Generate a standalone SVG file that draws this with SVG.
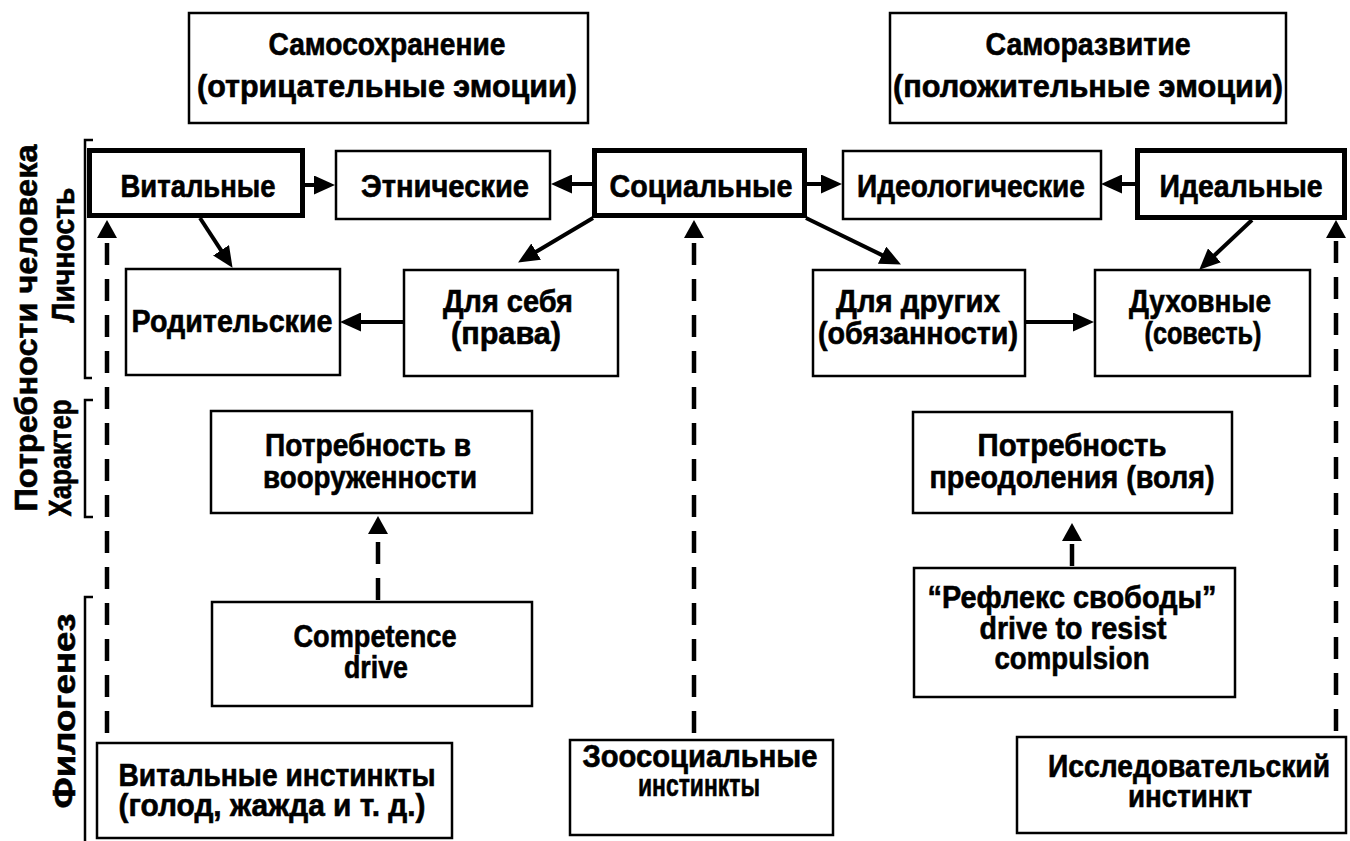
<svg xmlns="http://www.w3.org/2000/svg" width="1350" height="841" viewBox="0 0 1350 841">
<style>
.bg{fill:#fff}
.b{fill:#fff;stroke:#000;stroke-width:2.5}
.bt{fill:#fff;stroke:#000;stroke-width:5}
.t{font-family:"Liberation Sans",Arial,sans-serif;font-weight:bold;font-size:31px;text-anchor:middle;fill:#000;stroke:#000;stroke-width:0.6}
.s{stroke:#000;stroke-width:4;fill:none}
.d{stroke:#000;stroke-width:4.5;fill:none;stroke-dasharray:22 14}
.br{stroke:#000;stroke-width:2.5;fill:none}
</style>
<defs>
<marker id="ah" markerUnits="userSpaceOnUse" markerWidth="21" markerHeight="19" viewBox="0 0 21 19" refX="1" refY="9.5" orient="auto"><path d="M0,0 L21,9.5 L0,19 z" fill="#000"/></marker>
<marker id="au" markerUnits="userSpaceOnUse" markerWidth="18" markerHeight="20" viewBox="0 0 18 20" refX="1" refY="10" orient="auto"><path d="M0,0 L18,10 L0,20 z" fill="#000"/></marker>
</defs>
<rect class="bg" x="0" y="0" width="1350" height="841"/>

<g id="labels">
<text class="t" font-size="32" textLength="367" lengthAdjust="spacingAndGlyphs" transform="translate(37,328) rotate(-90)">Потребности человека</text>
<text class="t" textLength="135" lengthAdjust="spacingAndGlyphs" transform="translate(74,255) rotate(-90)">Личность</text>
<text class="t" textLength="117" lengthAdjust="spacingAndGlyphs" transform="translate(71,458) rotate(-90)">Характер</text>
<text class="t" textLength="195" lengthAdjust="spacingAndGlyphs" transform="translate(75,711) rotate(-90)">Филогенез</text>
<path class="br" d="M93,140 H85 V378 H92"/>
<path class="br" d="M93,400 H85 V517 H93"/>
<path class="br" d="M93,597 H85 V841"/>
</g>

<g id="connectors">
<line class="s" x1="305" y1="185" x2="315" y2="185" marker-end="url(#ah)"/>
<line class="s" x1="592" y1="184" x2="571" y2="184" marker-end="url(#ah)"/>
<line class="s" x1="807" y1="184" x2="822" y2="184" marker-end="url(#ah)"/>
<line class="s" x1="1135" y1="184" x2="1121" y2="184" marker-end="url(#ah)"/>
<line class="s" x1="403" y1="322" x2="360" y2="322" marker-end="url(#ah)"/>
<line class="s" x1="1025" y1="322" x2="1074" y2="322" marker-end="url(#ah)"/>
<line class="s" x1="200" y1="218" x2="221.6" y2="251.1" marker-end="url(#ah)"/>
<line class="s" x1="593" y1="218" x2="535.3" y2="252.2" marker-end="url(#ah)"/>
<line class="s" x1="806" y1="218" x2="883" y2="255.6" marker-end="url(#ah)"/>
<line class="s" x1="1252" y1="220" x2="1213.8" y2="256" marker-end="url(#ah)"/>
<line class="d" x1="107" y1="733" x2="107" y2="237" marker-end="url(#au)"/>
<line class="d" x1="694" y1="733" x2="694" y2="237" marker-end="url(#au)"/>
<line class="d" x1="1336" y1="731" x2="1336" y2="237" marker-end="url(#au)"/>
<line class="d" x1="378" y1="600" x2="378" y2="533" marker-end="url(#au)"/>
<line class="d" x1="1072" y1="566" x2="1072" y2="540" marker-end="url(#au)"/>
</g>

<g id="n-samosohr">
<rect class="b" x="189" y="13" width="399" height="110"/>
<text class="t" x="387" y="55" textLength="237" lengthAdjust="spacingAndGlyphs">Самосохранение</text>
<text class="t" x="387" y="97" textLength="380" lengthAdjust="spacingAndGlyphs">(отрицательные эмоции)</text>
</g>
<g id="n-samorazv">
<rect class="b" x="890" y="13" width="396" height="110"/>
<text class="t" x="1088" y="55" textLength="205" lengthAdjust="spacingAndGlyphs">Саморазвитие</text>
<text class="t" x="1088" y="97" textLength="390" lengthAdjust="spacingAndGlyphs">(положительные эмоции)</text>
</g>

<g id="n-vital">
<rect class="bt" x="89.5" y="150.5" width="213" height="65"/>
<text class="t" x="198" y="197" textLength="155" lengthAdjust="spacingAndGlyphs">Витальные</text>
</g>
<g id="n-ethnic">
<rect class="b" x="336" y="151" width="214" height="68"/>
<text class="t" x="445" y="197" textLength="168" lengthAdjust="spacingAndGlyphs">Этнические</text>
</g>
<g id="n-social">
<rect class="bt" x="594.5" y="150.5" width="210" height="65"/>
<text class="t" x="701" y="197" textLength="183" lengthAdjust="spacingAndGlyphs">Социальные</text>
</g>
<g id="n-ideolog">
<rect class="b" x="843" y="151" width="258" height="68"/>
<text class="t" x="971" y="197" textLength="228" lengthAdjust="spacingAndGlyphs">Идеологические</text>
</g>
<g id="n-ideal">
<rect class="bt" x="1137.5" y="150.5" width="207" height="67"/>
<text class="t" x="1241" y="197" textLength="163" lengthAdjust="spacingAndGlyphs">Идеальные</text>
</g>

<g id="n-parent">
<rect class="b" x="126" y="269" width="214" height="106"/>
<text class="t" x="232" y="332" textLength="201" lengthAdjust="spacingAndGlyphs">Родительские</text>
</g>
<g id="n-self">
<rect class="b" x="404" y="270" width="214" height="106"/>
<text class="t" x="508" y="312" textLength="130" lengthAdjust="spacingAndGlyphs">Для себя</text>
<text class="t" x="506" y="344" textLength="110" lengthAdjust="spacingAndGlyphs">(права)</text>
</g>
<g id="n-others">
<rect class="b" x="813" y="270" width="212" height="106"/>
<text class="t" x="918" y="312" textLength="164" lengthAdjust="spacingAndGlyphs">Для других</text>
<text class="t" x="918" y="344" textLength="200" lengthAdjust="spacingAndGlyphs">(обязанности)</text>
</g>
<g id="n-spirit">
<rect class="b" x="1095" y="270" width="215" height="106"/>
<text class="t" x="1200" y="312" textLength="142" lengthAdjust="spacingAndGlyphs">Духовные</text>
<text class="t" x="1203" y="344" textLength="117" lengthAdjust="spacingAndGlyphs">(совесть)</text>
</g>

<g id="n-arm">
<rect class="b" x="211" y="411" width="321" height="102"/>
<text class="t" x="368" y="456" textLength="206" lengthAdjust="spacingAndGlyphs">Потребность в</text>
<text class="t" x="370" y="488" textLength="214" lengthAdjust="spacingAndGlyphs">вооруженности</text>
</g>
<g id="n-will">
<rect class="b" x="913" y="412" width="319" height="101"/>
<text class="t" x="1072" y="456" textLength="189" lengthAdjust="spacingAndGlyphs">Потребность</text>
<text class="t" x="1072" y="488" textLength="285" lengthAdjust="spacingAndGlyphs">преодоления (воля)</text>
</g>
<g id="n-competence">
<rect class="b" x="212" y="602" width="320" height="104"/>
<text class="t" x="375" y="647" textLength="163" lengthAdjust="spacingAndGlyphs">Competence</text>
<text class="t" x="376" y="678" textLength="64" lengthAdjust="spacingAndGlyphs">drive</text>
</g>
<g id="n-reflex">
<rect class="b" x="914" y="568" width="321" height="129"/>
<text class="t" x="1072" y="608" textLength="289" lengthAdjust="spacingAndGlyphs">“Рефлекс свободы”</text>
<text class="t" x="1073" y="639" textLength="187" lengthAdjust="spacingAndGlyphs">drive to resist</text>
<text class="t" x="1072" y="669" textLength="155" lengthAdjust="spacingAndGlyphs">compulsion</text>
</g>

<g id="n-vitinst">
<rect class="b" x="97" y="743" width="355" height="95"/>
<text class="t" x="277" y="786" textLength="317" lengthAdjust="spacingAndGlyphs">Витальные инстинкты</text>
<text class="t" x="272" y="816" textLength="307" lengthAdjust="spacingAndGlyphs">(голод, жажда и т. д.)</text>
</g>
<g id="n-zoosoc">
<rect class="b" x="570" y="740" width="263" height="95"/>
<text class="t" font-size="29" x="700" y="767" textLength="235" lengthAdjust="spacingAndGlyphs">Зоосоциальные</text>
<text class="t" font-size="29" x="699" y="796" textLength="122" lengthAdjust="spacingAndGlyphs">инстинкты</text>
</g>
<g id="n-explore">
<rect class="b" x="1017" y="737" width="329" height="96"/>
<text class="t" x="1189" y="777" textLength="282" lengthAdjust="spacingAndGlyphs">Исследовательский</text>
<text class="t" font-size="29" x="1190" y="807" textLength="124" lengthAdjust="spacingAndGlyphs">инстинкт</text>
</g>
</svg>
